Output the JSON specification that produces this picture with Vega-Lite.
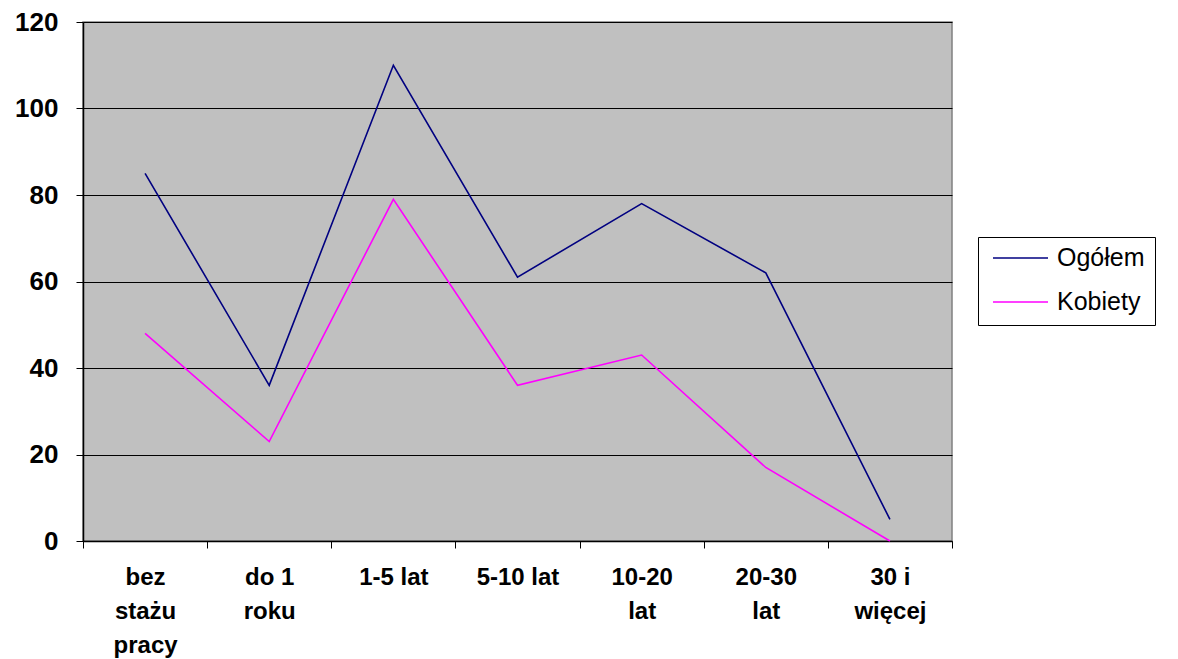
{
  "$schema": "https://vega.github.io/schema/vega-lite/v6.json",
  "width": 869,
  "height": 519,
  "autosize": {"type": "none"},
  "padding": {"left": 83, "top": 22, "right": 226, "bottom": 118},
  "background": "white",
  "config": {
    "font": "Liberation Sans",
    "view": {"fill": "#C0C0C0", "stroke": "#808080", "strokeWidth": 1.5}
  },
  "data": {
    "values": [
      {"staz": "bez stażu pracy", "seria": "Ogółem", "wartosc": 85},
      {"staz": "do 1 roku", "seria": "Ogółem", "wartosc": 36},
      {"staz": "1-5 lat", "seria": "Ogółem", "wartosc": 110},
      {"staz": "5-10 lat", "seria": "Ogółem", "wartosc": 61},
      {"staz": "10-20 lat", "seria": "Ogółem", "wartosc": 78},
      {"staz": "20-30 lat", "seria": "Ogółem", "wartosc": 62},
      {"staz": "30 i więcej", "seria": "Ogółem", "wartosc": 5},
      {"staz": "bez stażu pracy", "seria": "Kobiety", "wartosc": 48},
      {"staz": "do 1 roku", "seria": "Kobiety", "wartosc": 23},
      {"staz": "1-5 lat", "seria": "Kobiety", "wartosc": 79},
      {"staz": "5-10 lat", "seria": "Kobiety", "wartosc": 36},
      {"staz": "10-20 lat", "seria": "Kobiety", "wartosc": 43},
      {"staz": "20-30 lat", "seria": "Kobiety", "wartosc": 17},
      {"staz": "30 i więcej", "seria": "Kobiety", "wartosc": 0}
    ]
  },
  "mark": {"type": "line", "strokeWidth": 1.6},
  "encoding": {
    "x": {
      "field": "staz",
      "type": "nominal",
      "bandPosition": 0.5,
      "sort": ["bez stażu pracy", "do 1 roku", "1-5 lat", "5-10 lat", "10-20 lat", "20-30 lat", "30 i więcej"],
      "scale": {"paddingInner": 0, "paddingOuter": 0},
      "axis": {
        "title": null,
        "labelAngle": 0,
        "tickBand": "extent",
        "grid": false,
        "domainColor": "black",
        "domainWidth": 1.5,
        "tickColor": "black",
        "tickSize": 7,
        "labelFont": "Liberation Sans",
        "labelFontSize": 24,
        "labelFontWeight": "bold",
        "labelColor": "black",
        "labelPadding": 17,
        "labelLineHeight": 34,
        "labelExpr": "{'bez stażu pracy': ['bez', 'stażu', 'pracy'], 'do 1 roku': ['do 1', 'roku'], '1-5 lat': '1-5 lat', '5-10 lat': '5-10 lat', '10-20 lat': ['10-20', 'lat'], '20-30 lat': ['20-30', 'lat'], '30 i więcej': ['30 i', 'więcej']}[datum.value]"
      }
    },
    "y": {
      "field": "wartosc",
      "type": "quantitative",
      "scale": {"domain": [0, 120], "nice": false},
      "axis": {
        "title": null,
        "values": [0, 20, 40, 60, 80, 100, 120],
        "grid": true,
        "gridColor": "black",
        "gridWidth": 1,
        "domainColor": "black",
        "domainWidth": 1.5,
        "tickColor": "black",
        "tickSize": 7,
        "labelFont": "Liberation Sans",
        "labelFontSize": 26,
        "labelFontWeight": "bold",
        "labelColor": "black",
        "labelPadding": 18
      }
    },
    "color": {
      "field": "seria",
      "type": "nominal",
      "sort": ["Ogółem", "Kobiety"],
      "scale": {"domain": ["Ogółem", "Kobiety"], "range": ["#000080", "#FF00FF"]},
      "legend": {
        "title": null,
        "orient": "none",
        "legendX": 895,
        "legendY": 215,
        "symbolType": "stroke",
        "symbolSize": 3025,
        "symbolStrokeWidth": 1.6,
        "symbolOffset": 4,
        "clipHeight": 22,
        "labelFont": "Liberation Sans",
        "labelFontSize": 25,
        "labelColor": "black",
        "labelOffset": 8,
        "strokeColor": "black",
        "fillColor": "white",
        "padding": 10,
        "rowPadding": 19
      }
    }
  }
}
